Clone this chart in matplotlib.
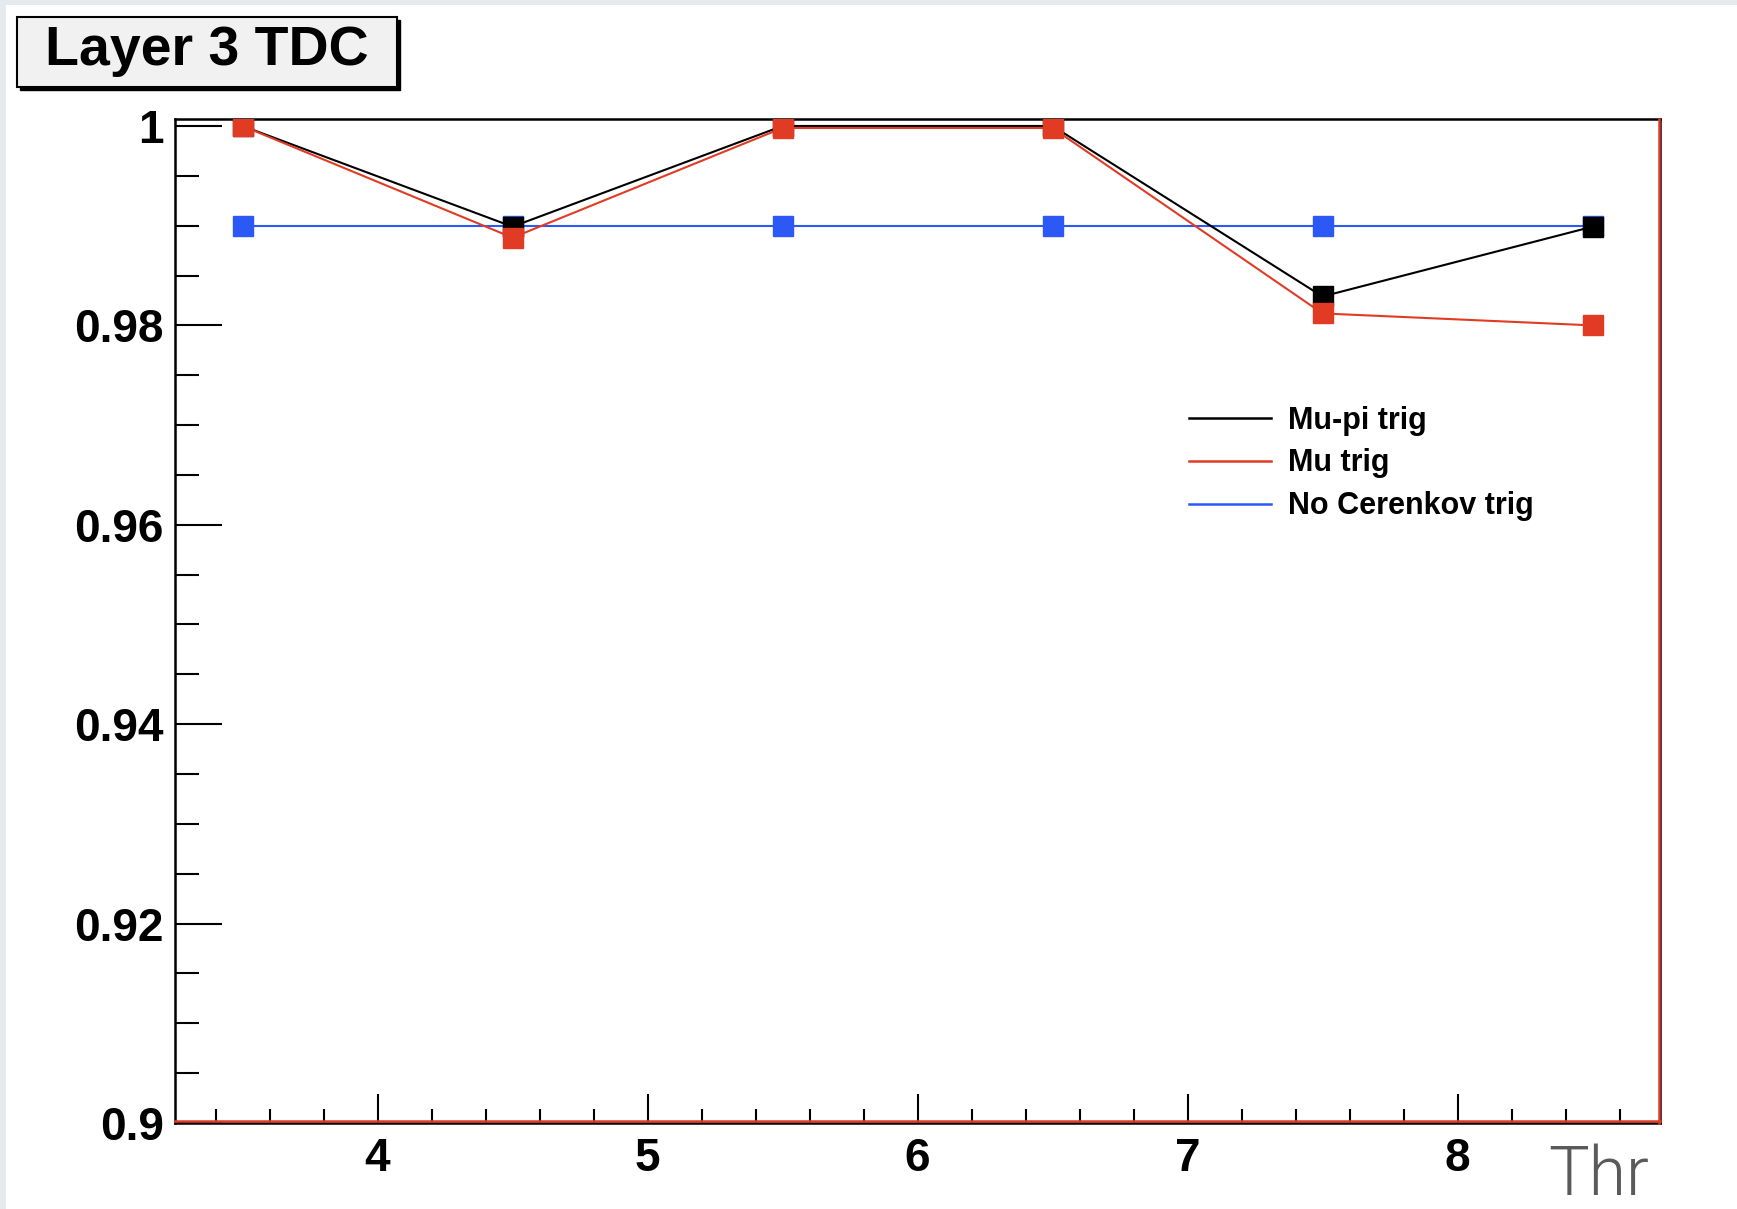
import matplotlib
matplotlib.use('Agg')
import matplotlib.pyplot as plt
from matplotlib.patches import Rectangle
from matplotlib.ticker import MultipleLocator
from matplotlib.lines import Line2D

# threshold values and efficiencies
thr = [3.5, 4.5, 5.5, 6.5, 7.5, 8.5]
mu_pi = [1.0, 0.9899, 1.0, 1.0, 0.9829, 0.9899]
mu = [1.0, 0.9888, 0.9998, 0.9998, 0.9812, 0.9800]
no_cer = [0.99, 0.99, 0.99, 0.99, 0.99, 0.99]
labels = ['Mu-pi trig', 'Mu trig', 'No Cerenkov trig']

RED = '#e23b24'
BLUE = '#2c58f6'
FONT = ['Liberation Sans', 'DejaVu Sans']

plt.rcParams['font.family'] = FONT
plt.rcParams['font.weight'] = 'bold'

fig = plt.figure(figsize=(17.37, 12.09), dpi=100)
fig.patch.set_facecolor('white')

# light grey canvas edge (left and top)
fig.patches.append(Rectangle((0, 0), 6 / 1737, 1, transform=fig.transFigure,
                             facecolor='#e6e9ee', edgecolor='none'))
fig.patches.append(Rectangle((0, 1 - 5 / 1209), 1, 5 / 1209, transform=fig.transFigure,
                             facecolor='#e6e9ee', edgecolor='none'))

ax = fig.add_axes([175 / 1737, 1 - 1123 / 1209, 1485 / 1737, 1004 / 1209])

ax.plot(thr, mu_pi, color='black', lw=1.5, marker='s', ms=14, mec='black', mfc='black',
        zorder=3)
ax.plot(thr, mu, color=RED, lw=1.5, marker='s', ms=14, mec=RED, mfc=RED, zorder=4)
ax.plot(thr, no_cer, color=BLUE, lw=1.5, marker='s', ms=14, mec=BLUE, mfc=BLUE, zorder=2)

ax.set_xlim(3.25, 8.75)
ax.set_ylim(0.9, 1.0007)

ax.xaxis.set_major_locator(MultipleLocator(1))
ax.xaxis.set_minor_locator(MultipleLocator(0.2))
ax.yaxis.set_minor_locator(MultipleLocator(0.005))
ax.set_yticks([0.9, 0.92, 0.94, 0.96, 0.98, 1.0])
ax.set_yticklabels(['0.9', '0.92', '0.94', '0.96', '0.98', '1'])

ax.tick_params(axis='both', which='both', direction='in', top=False, right=False,
               width=1.5, color='black')
ax.tick_params(axis='y', which='major', length=34, labelsize=33, pad=8)
ax.tick_params(axis='y', which='minor', length=17)
ax.tick_params(axis='x', which='major', length=21, labelsize=33, pad=10)
ax.tick_params(axis='x', which='minor', length=10)

for s in ax.spines.values():
    s.set_linewidth(1.8)
    s.set_color('black')

# red frame edges from the drawn graph
ax.add_line(Line2D([0, 1], [0.0015, 0.0015], transform=ax.transAxes, color=RED, lw=1.8,
                   clip_on=False, zorder=5))
ax.add_line(Line2D([0.9992, 0.9992], [0, 1], transform=ax.transAxes, color=RED, lw=1.8,
                   clip_on=False, zorder=5))

# legend with plain lines (no markers)
handles = [Line2D([], [], color=c, lw=1.8) for c in ['black', RED, BLUE]]
ax.legend(handles, labels, loc='upper left', bbox_to_anchor=(0.664, 0.742), frameon=False,
          handlelength=2.7, handletextpad=0.55, labelspacing=0.42,
          prop={'weight': 'bold', 'size': 22})

# title box with shadow
bx, by, bw, bh = 17 / 1737, 1 - 87 / 1209, 380 / 1737, 70 / 1209
fig.patches.append(Rectangle((bx + 3 / 1737, by - 3 / 1209), bw, bh, transform=fig.transFigure,
                             facecolor='black', edgecolor='black', lw=1.0))
fig.patches.append(Rectangle((bx, by), bw, bh, transform=fig.transFigure,
                             facecolor='#f1f1f1', edgecolor='black', lw=1.5))
fig.text(bx + bw / 2, by + bh / 2 + 1 / 1209, 'Layer 3 TDC', ha='center', va='center',
         fontsize=40, fontweight='bold')

# axis label in the corner
fig.text(1548 / 1737, 1 - 1195 / 1209, 'Thr', ha='left', va='baseline',
         fontsize=49, color='#5a5a5a', family=['Roboto', 'DejaVu Sans'], fontweight=300)

plt.savefig('out.png', dpi=100, facecolor=fig.get_facecolor())
